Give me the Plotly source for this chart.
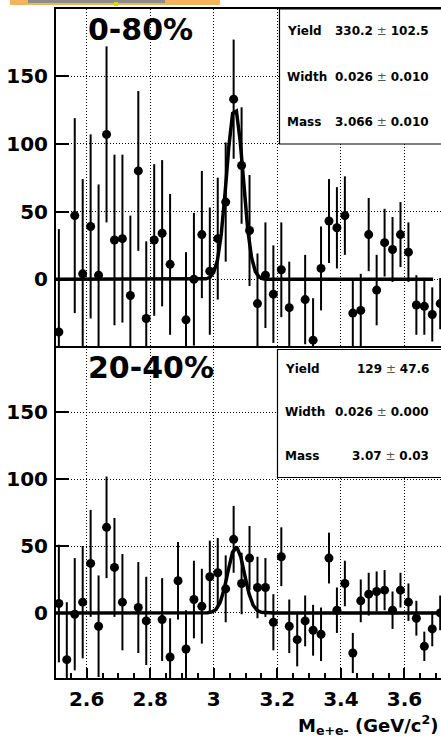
import math
import plotly.graph_objects as go

# ---- histogram binning (GeV/c^2) ----
BIN_LOW = 2.5
BIN_WIDTH = 0.025
N_BINS = 49
mass_centers = [round(BIN_LOW + BIN_WIDTH * (i + 0.5), 4) for i in range(N_BINS)]

# ---- 0-80% centrality: background-subtracted counts and errors ----
counts_0_80 = [-39, None, 47, 4, 39, 3, 107, 29, 30, -12,
               80, -29, 29, 34, 11, None, -30, 0, 33, 6,
               30, 57, 133, 84, 36, -18, 3, -11, 7, -21,
               None, -15, -45, 8, 43, 38, 47, -25, -23, 33,
               -8, 27, 22, 33, 20, -19, -20, -26, -18]
errors_0_80 = [76, 0, 72, 70, 68, 67, 65, 63, 62, 59,
               59, 57, 56, 54, 52, 0, 50, 49, 47, 47,
               45, 44, 44, 43, 41, 37, 39, 36, 35, 34,
               0, 33, 31, 31, 31, 30, 29, 25, 27, 27,
               26, 25, 24, 24, 22, 22, 21, 20, 19]

# ---- 20-40% centrality ----
counts_20_40 = [7, -35, -1, 8, 37, -10, 64, 34, 8, None,
                4, -6, None, -5, -33, 24, -27, 10, 5, 27,
                30, 18, 55, 22, 41, 19, 19, -7, 42, -10,
                -20, -6, -13, -16, 41, 2, 22, -30, 9, 14,
                16, 17, 2, 17, 8, -4, -25, -12, 0]
errors_20_40 = [44, 43, 42, 42, 40, 38, 38, 37, 36, 0,
                34, 33, 0, 31, 29, 29, 29, 29, 28, 27,
                26, 25, 25, 23, 24, 23, 22, 21, 22, 20,
                20, 19, 19, 20, 19, 17, 17, 15, 16, 16,
                15, 15, 14, 13, 14, 13, 11, 13, 13]

# ---- Gaussian fit results ----
fit_0_80 = {"yield": 330.2, "yield_err": 102.5, "width": 0.026, "width_err": 0.010,
            "mass": 3.066, "mass_err": 0.010, "range": (2.5, 3.69)}
fit_20_40 = {"yield": 129, "yield_err": 47.6, "width": 0.026, "width_err": 0.000,
             "mass": 3.07, "mass_err": 0.03, "range": (2.5, 3.8)}

panel_labels = ["0-80%", "20-40%"]
x_tickvals = [2.6, 2.8, 3.0, 3.2, 3.4, 3.6]
x_ticktext = ["2.6", "2.8", "3", "3.2", "3.4", "3.6"]
y_tickvals = [0, 50, 100, 150]
y_ticktext = ["0", "50", "100", "150"]


def gauss_curve(fit, npx=100):
    lo, hi = fit["range"]
    amp = fit["yield"] * BIN_WIDTH / (math.sqrt(2 * math.pi) * fit["width"])
    xs, ys = [], []
    for k in range(npx + 1):
        x = lo + (hi - lo) * k / npx
        xs.append(x)
        ys.append(amp * math.exp(-0.5 * ((x - fit["mass"]) / fit["width"]) ** 2))
    return xs, ys


# ---- page geometry (pixels) ----
W, H = 441, 738
ML, MR, MT, MB = 56, 0, 9, 60
PW, PH = W - ML - MR, H - MT - MB
SPLIT_PX = 346


def px(xp):
    return (xp - ML) / PW


def py(yp):
    return (H - MB - yp) / PH


split = py(SPLIT_PX)
FONT = "DejaVu Sans"

fig = go.Figure()

panels = [
    (counts_0_80, errors_0_80, fit_0_80, "x", "y"),
    (counts_20_40, errors_20_40, fit_20_40, "x2", "y2"),
]
for counts, errs, fit, xa, ya in panels:
    fig.add_trace(go.Scatter(
        x=mass_centers, y=counts, mode="markers",
        marker=dict(symbol="circle", size=9, color="black"),
        error_y=dict(type="data", array=errs, width=0, thickness=2, color="black"),
        xaxis=xa, yaxis=ya, showlegend=False, cliponaxis=True,
    ))
    fx, fy = gauss_curve(fit)
    fig.add_trace(go.Scatter(
        x=fx, y=fy, mode="lines", line=dict(color="black", width=3.5),
        xaxis=xa, yaxis=ya, showlegend=False,
    ))

grid = dict(showgrid=True, gridcolor="black", gridwidth=1, griddash="1px,2px")
xr = [2.5035, 3.715]
tick_font = dict(family=FONT, size=20, color="black", weight="bold")

fig.update_layout(
    width=W, height=H,
    margin=dict(l=ML, r=MR, t=MT, b=MB),
    paper_bgcolor="white", plot_bgcolor="white",
    xaxis=dict(domain=[0, 1], anchor="y", range=xr, tickmode="array",
               tickvals=x_tickvals, ticktext=x_ticktext, showticklabels=False,
               ticks="", showline=True, linecolor="black", linewidth=2,
               mirror=True, zeroline=False, **grid),
    yaxis=dict(domain=[split, 1], anchor="x", range=[-49.3, 199.6],
               tickmode="array", tickvals=y_tickvals, ticktext=y_ticktext,
               ticks="inside", ticklen=13, tickwidth=1.5, tickcolor="black",
               showline=True, linecolor="black", linewidth=2, mirror=False,
               zeroline=False, ticklabelstandoff=2, tickfont=tick_font,
               **grid),
    xaxis2=dict(domain=[0, 1], anchor="y2", range=xr, tickmode="array",
                tickvals=x_tickvals, ticktext=x_ticktext,
                ticks="inside", ticklen=10, tickwidth=1.5, tickcolor="black",
                minor=dict(tickmode="linear", tick0=2.5, dtick=0.05,
                           ticks="inside", ticklen=5, tickcolor="black",
                           tickwidth=1.5, showgrid=False),
                showline=True, linecolor="black", linewidth=2, mirror=False,
                zeroline=False, ticklabelstandoff=2, tickfont=tick_font,
                **grid),
    yaxis2=dict(domain=[0, split], anchor="x2", range=[-48.7, 199.6],
                tickmode="array", tickvals=y_tickvals, ticktext=y_ticktext,
                ticks="inside", ticklen=13, tickwidth=1.5, tickcolor="black",
                showline=True, linecolor="black", linewidth=2, mirror=False,
                zeroline=False, ticklabelstandoff=2, tickfont=tick_font,
                **grid),
)

shapes = []
annotations = []

# centrality labels
for label, ycen in zip(panel_labels, [30, 367]):
    annotations.append(dict(
        text=f"<b>{label}</b>", xref="paper", yref="paper",
        x=px(86), y=py(ycen), xanchor="left", yanchor="middle", showarrow=False,
        font=dict(family=FONT, size=30, color="black"),
    ))


# fit-result boxes
def fit_box(fit, left, top, bottom, rows, fmt):
    shapes.append(dict(type="rect", xref="paper", yref="paper",
                       x0=px(left), x1=px(W + 5), y0=py(bottom), y1=py(top),
                       line=dict(color="black", width=1.2), fillcolor="white",
                       layer="above"))
    names = ["Yield", "Width", "Mass"]
    keys = ["yield", "width", "mass"]
    for name, key, yrow, f in zip(names, keys, rows, fmt):
        annotations.append(dict(
            text=f"<b>{name}</b>", xref="paper", yref="paper",
            x=px(left + 5.5), y=py(yrow), xanchor="left", yanchor="middle",
            showarrow=False, font=dict(family=FONT, size=12, color="black"),
        ))
        val = f.format(fit[key])
        err = f.format(fit[key + "_err"])
        annotations.append(dict(
            text=f"<b>{val}</b> <span style='color:#555'>±</span> <b>{err}</b>",
            xref="paper", yref="paper", x=px(431), y=py(yrow),
            xanchor="right", yanchor="middle", showarrow=False,
            font=dict(family=FONT, size=12, color="black"),
        ))


fit_box(fit_0_80, 279.5, 9, 144, [31, 77, 122], ["{:.1f}", "{:.3f}", "{:.3f}"])
fit_box(fit_20_40, 277.5, 349.5, 477.5, [368.5, 412, 456], ["{:g}", "{:.3f}", "{:.2f}"])

# x-axis title
annotations.append(dict(
    text="<b>M<sub>e+e-</sub> (GeV/c<sup>2</sup>)</b>", xref="paper", yref="paper",
    x=px(440), y=py(725), xanchor="right", yanchor="middle", showarrow=False,
    font=dict(family=FONT, size=18, color="black"),
))

# banner strip along the top edge
shapes.append(dict(type="rect", xref="paper", yref="paper",
                   x0=px(10), x1=px(220), y0=py(5), y1=py(0),
                   line=dict(width=0), fillcolor="#f0b45a", layer="above"))
shapes.append(dict(type="rect", xref="paper", yref="paper",
                   x0=px(28), x1=px(165), y0=py(3), y1=py(0),
                   line=dict(width=0), fillcolor="#8c8c8c", layer="above"))
shapes.append(dict(type="rect", xref="paper", yref="paper",
                   x0=px(114), x1=px(118), y0=py(6), y1=py(2),
                   line=dict(width=0), fillcolor="#d4e000", layer="above"))

fig.update_layout(shapes=shapes, annotations=annotations)
fig.write_html("out.html")
